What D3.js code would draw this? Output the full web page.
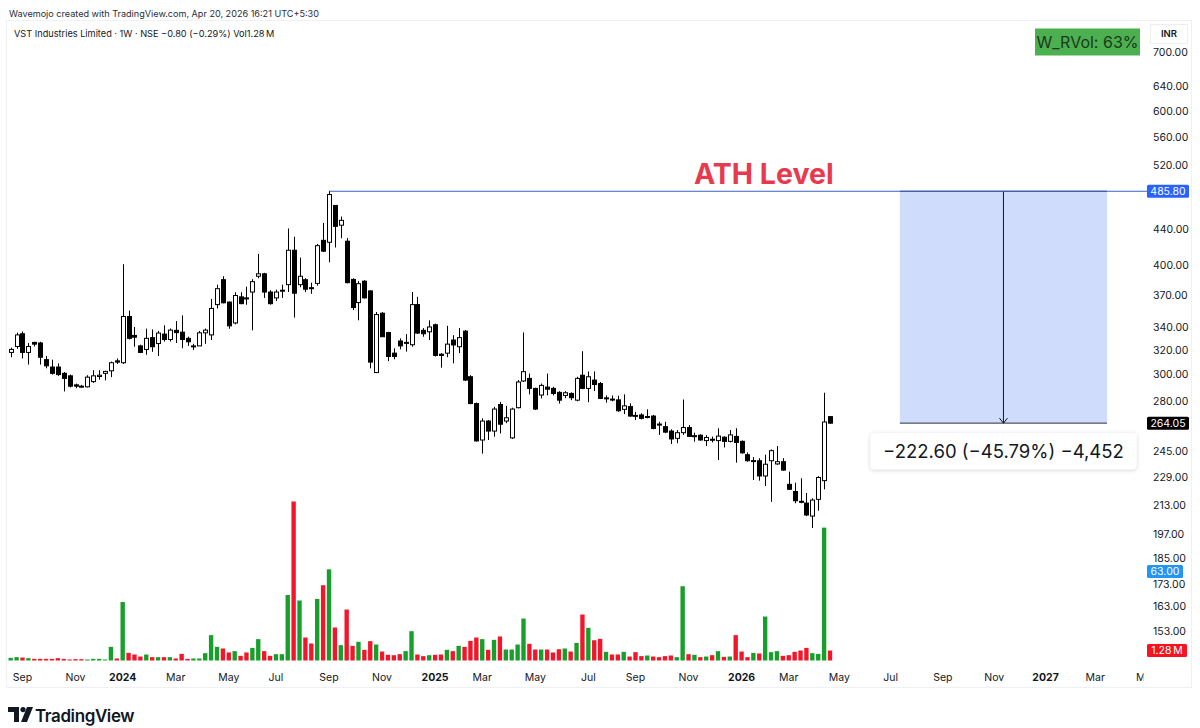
<!DOCTYPE html>
<html>
<head>
<meta charset="utf-8">
<script src="https://cdn.jsdelivr.net/npm/d3@7"></script>
<style>
  body { margin: 0; background: #fff; }
  svg { display: block; font-family: Inter, "Noto Sans", sans-serif; }
</style>
</head>
<body>
<svg id="chart" width="1200" height="728"></svg>
<script>
// Weekly candles of VST Industries (NSE), first week starts Mon 21 Aug 2023
const firstWeek = Date.UTC(2023, 7, 21);
const lastWeek = Date.UTC(2026, 3, 20);

const opens = [
  318, 323, 334, 318, 326.5, 326, 312, 306, 306, 301, 299, 292, 291, 290.5, 294.5, 298.5, 301, 303, 311, 309.5,
  349.5, 332.5, 323.5, 320.5, 330.6, 325.5, 333.7, 329, 337, 335.4, 330, 322.8, 323.5, 334.8, 333, 360.6, 385, 363, 343.6, 368,
  367, 372.7, 388.5, 391, 372.7, 367, 373.5, 380, 416, 380, 385, 377, 381.3, 427, 424.8, 468, 444.3, 426, 385.3, 362.5,
  383.5, 373.8, 301.6, 352.5, 335, 317.4, 327.7, 326, 324.5, 360.6, 337, 335.7, 342, 316.5, 317.4, 328.5, 322.8, 336.3, 298.3, 278,
  252.6, 265.5, 258.6, 277.3, 265.5, 254, 275, 295, 297, 289.3, 284.3, 290.3, 289.3, 286.3, 284, 285.5, 280.5, 299.5, 289.3, 295.7,
  293, 281.8, 281.3, 280.7, 273.8, 275.8, 269.5, 269.8, 268.3, 269, 263.4, 261.6, 258.6, 253.7, 257.5, 261, 255.2, 255.8, 252.2, 253.1,
  252.2, 254.5, 251.7, 255, 251.7, 243, 239, 239.2, 229.8, 239.2, 237.2, 238.6, 224.8, 220.6, 215, 214, 206.8, 216.1, 227, 268.6
];
const highs = [
  322, 335, 336, 326, 327, 327, 315, 312, 309, 302, 300, 293, 292, 299.5, 303.5, 303.5, 303, 310.5, 313, 401,
  355, 340, 324.5, 338.5, 337.8, 336.5, 341.5, 338.6, 345.3, 350.5, 331.5, 325.3, 336.5, 338.6, 366, 380, 388.5, 363.6, 372.5, 372.5,
  378, 385.5, 412, 392, 374.5, 375, 380, 440.5, 431, 408, 386.5, 382, 423, 447, 485.8, 468, 454.5, 429.5, 386.3, 383.5,
  384.5, 374.5, 353.6, 353.6, 335.7, 321.5, 330, 333.7, 372.7, 368, 339, 346, 343, 317.4, 341, 332.7, 339, 337.2, 299.5, 278.7,
  267.4, 266.2, 275.6, 279.2, 276.3, 275, 295.7, 335.2, 300.8, 289.8, 293, 300.8, 290.5, 287.2, 287.2, 286.3, 298.3, 319, 302.5, 302.5,
  294.2, 284, 284, 283.8, 284.8, 278.2, 272, 271, 273.8, 269.8, 265, 265, 259.8, 259.3, 281, 262.7, 257.5, 256.4, 255.8, 254.9,
  260.5, 255, 259.3, 260.5, 252.3, 244.5, 241.5, 240.8, 243, 246.4, 248.6, 240.8, 232.4, 225.8, 228.4, 219.8, 216.7, 229.7, 286, 269
];
const lows = [
  314, 321, 313, 308, 323, 308, 305, 300, 299, 287, 290, 289.5, 290, 290, 293.5, 296, 295.5, 298, 308.5, 308.5,
  329, 322.7, 317.5, 316, 318.5, 315, 327.2, 327.2, 326, 321.5, 323.5, 320, 323.5, 325.3, 328.5, 357, 361.8, 338.4, 342.4, 361,
  360.5, 337, 386.5, 367, 360.5, 364, 367, 372.7, 348.5, 377.5, 372.7, 371, 379, 414, 403, 419, 429.3, 381.3, 355.4, 346,
  366.5, 305, 301.2, 331.4, 310.8, 312.3, 320.6, 318.7, 322.8, 333.8, 331.4, 328.5, 314.6, 305.5, 314, 309, 317.4, 295, 277.5, 251.5,
  243.7, 252.6, 254.8, 257, 264, 253.3, 274.5, 294.2, 284.8, 273.3, 281.8, 284, 284, 278, 282, 280.5, 279.6, 288.7, 279, 287.3,
  281.3, 278.7, 279.6, 272, 270.4, 268.6, 266.2, 266.6, 267.4, 259.8, 256, 257.2, 250, 250.5, 256, 255, 251.5, 252.2, 248.6, 251,
  239.6, 247.7, 251, 238, 243.7, 238.6, 227.4, 227, 223.8, 214.7, 236.6, 233, 221.5, 213.9, 213.9, 206.8, 200.4, 209.7, 221.9, 263.6
];
const closes = [
  320.5, 333, 318, 323, 325, 314, 307, 301, 300, 297, 291, 291, 290.5, 298, 299, 299.5, 302.5, 309.5, 310, 349.5,
  330, 331, 318, 330, 322.8, 334.6, 329, 337.2, 335, 329, 327, 323.5, 334.8, 337.2, 357, 376, 362.3, 341, 369.3, 361.5,
  366.5, 383, 391, 372.7, 361.5, 372.7, 374.5, 416, 371.6, 388.5, 375.5, 376, 421, 415, 481.6, 443, 450, 382, 357.8, 381,
  367, 310, 351.3, 331.4, 314.6, 314.6, 323.5, 326.5, 360.6, 334.6, 334, 340, 315.5, 315.5, 325, 324.3, 330.6, 295.7, 278, 252,
  265.5, 258.6, 274, 263.3, 267.8, 274, 294.2, 302.3, 289.3, 274, 291.6, 288.7, 285.5, 280.5, 286, 282.3, 297, 289.3, 298.3, 292.3,
  281.8, 282.2, 281, 272.8, 276.3, 269, 269.3, 267.4, 268.7, 260.4, 263, 257.9, 253.3, 257.5, 261, 255, 255.5, 252.6, 254.3, 253,
  255.2, 251.7, 256, 251, 244.2, 239.2, 239.3, 229.8, 237, 245.6, 238.6, 233.4, 221.9, 215.3, 214.7, 207.4, 215.7, 228.9, 264.85, 264.05
];
// weekly volume, millions of shares
const volumes = [
  0.34, 0.43, 0.38, 0.3, 0.21, 0.21, 0.21, 0.21, 0.3, 0.21, 0.13, 0.17, 0.17, 0.13, 0.21, 0.21, 0.13, 1.75, 0.26, 7.5,
  0.98, 0.77, 0.51, 0.77, 0.43, 0.43, 0.43, 0.43, 0.26, 0.85, 0.21, 0.26, 0.26, 0.94, 3.25, 1.75, 1.54, 1.03, 1.2, 0.6,
  1.03, 1.62, 2.74, 1.2, 0.6, 0.81, 0.81, 8.4, 20.4, 7.7, 2.95, 2.18, 7.9, 9.66, 11.7, 4.23, 1.97, 6.54, 1.88, 2.4,
  1.37, 2.48, 2.05, 1.15, 0.73, 0.68, 0.81, 1.2, 3.76, 0.77, 0.56, 0.68, 0.73, 0.77, 1.37, 1.2, 1.88, 1.75, 2.52, 2.95,
  2.74, 1.37, 2.65, 3.08, 1.41, 1.41, 2.05, 5.38, 2.14, 1.41, 1.41, 1.41, 1.03, 1.45, 1.54, 1.15, 2.26, 5.9, 4.19, 2.6,
  2.78, 1.11, 0.77, 0.77, 1.11, 0.51, 1.07, 0.56, 0.64, 0.51, 0.43, 0.56, 0.64, 0.43, 9.53, 0.81, 0.73, 0.43, 0.51, 0.68,
  1.2, 0.47, 0.51, 3.25, 1.15, 0.43, 0.98, 0.9, 5.64, 1.07, 1.2, 0.6, 0.68, 1.11, 1.28, 1.62, 0.94, 0.85, 17.05, 1.28
];

// price axis ticks (log scale) and time axis labels
const priceTicks = [700, 640, 600, 560, 520, 440, 400, 370, 340, 320, 300, 280, 245, 229, 213, 197, 185, 173, 163, 153];
const timeTicks = [
  ["2023-09-04", "Sep"], ["2023-11-06", "Nov"], ["2024-01-01", "2024"], ["2024-03-04", "Mar"], ["2024-05-06", "May"],
  ["2024-07-01", "Jul"], ["2024-09-02", "Sep"], ["2024-11-04", "Nov"], ["2025-01-06", "2025"], ["2025-03-03", "Mar"],
  ["2025-05-05", "May"], ["2025-07-07", "Jul"], ["2025-09-01", "Sep"], ["2025-11-03", "Nov"], ["2026-01-05", "2026"],
  ["2026-03-02", "Mar"], ["2026-05-01", "May"], ["2026-07-01", "Jul"], ["2026-09-01", "Sep"], ["2026-11-01", "Nov"],
  ["2027-01-01", "2027"], ["2027-03-01", "Mar"], ["2027-05-01", "May"]
];

// ATH level and the price range measure drawn to the right
const athPrice = 485.8;
const lastPrice = 264.05;
const measureStart = "2026-07-12";
const measureEnd = "2027-03-15";
const measureText = "\u2212222.60 (\u221245.79%) \u22124,452";

const weekMs = 7 * 24 * 3600 * 1000;
const candles = opens.map((o, i) => ({
  date: new Date(firstWeek + i * weekMs),
  open: o, high: highs[i], low: lows[i], close: closes[i], vol: volumes[i]
}));

const svg = d3.select("#chart");
svg.append("rect").attr("width", 1200).attr("height", 728).attr("fill", "#fff");

// Scales
const x = d3.scaleUtc()
  .domain([new Date(firstWeek), new Date(lastWeek)])
  .range([10.7, 830]);
const y = d3.scaleLog()
  .domain([700, 153])
  .range([52.3, 630.7]);
const yVol = d3.scaleLinear()
  .domain([0, 20.4])
  .range([660.5, 501.5]);

const step = x(new Date(firstWeek + weekMs)) - x(new Date(firstWeek));
const bodyW = 4;
const volW = step * 0.74;

// Frame of the chart
svg.append("rect")
  .attr("x", 6.5).attr("y", 20.5).attr("width", 1185).attr("height", 667)
  .attr("fill", "none").attr("stroke", "#eef0f3");

// Header texts
svg.append("text").attr("x", 9).attr("y", 16.5)
  .style("font-size", "9.1px").attr("fill", "#2a2e39")
  .text("Wavemojo created with TradingView.com, Apr 20, 2026 16:21 UTC+5:30");
svg.append("text").attr("x", 14).attr("y", 36.5)
  .style("font-size", "9.2px").attr("fill", "#131722")
  .text("VST Industries Limited \u00b7 1W \u00b7 NSE  \u22120.80 (\u22120.29%)  Vol1.28\u2009M");

// Volume bars
svg.append("g").selectAll("rect")
  .data(candles)
  .enter().append("rect")
  .attr("x", d => x(d.date) - volW / 2)
  .attr("y", d => yVol(d.vol))
  .attr("width", volW)
  .attr("height", d => yVol(0) - yVol(d.vol))
  .attr("fill", d => d.close >= d.open ? "#16a02b" : "#f2162b");

// Measure box from ATH down to last price
const mx0 = x(new Date(measureStart)), mx1 = x(new Date(measureEnd));
const mxc = (mx0 + mx1) / 2;
svg.append("rect")
  .attr("x", mx0).attr("y", y(athPrice))
  .attr("width", mx1 - mx0).attr("height", y(lastPrice) - y(athPrice))
  .attr("fill", "#cfdcfc");
[athPrice, lastPrice].forEach(p => {
  svg.append("line")
    .attr("x1", mx0).attr("x2", mx1).attr("y1", y(p)).attr("y2", y(p))
    .attr("stroke", "#2a2e39").attr("stroke-width", 1);
});
svg.append("line")
  .attr("x1", mxc).attr("x2", mxc).attr("y1", y(athPrice)).attr("y2", y(lastPrice))
  .attr("stroke", "#131722").attr("stroke-width", 1);
svg.append("path")
  .attr("d", `M${mxc - 4},${y(lastPrice) - 5}L${mxc},${y(lastPrice)}L${mxc + 4},${y(lastPrice) - 5}`)
  .attr("fill", "none").attr("stroke", "#131722").attr("stroke-width", 1);

// ATH horizontal line from the peak candle
const athCandle = candles.find(d => d.high === athPrice);
svg.append("line")
  .attr("x1", x(athCandle.date)).attr("x2", 1147)
  .attr("y1", y(athPrice)).attr("y2", y(athPrice))
  .attr("stroke", "#3b5fc4").attr("stroke-width", 1.2);

svg.append("text")
  .attr("x", 694).attr("y", y(athPrice) - 7)
  .style("font-size", "28.5px").style("font-weight", 700)
  .attr("fill", "#e83a4f")
  .text("ATH Level");

// Candles
const cg = svg.append("g");
cg.selectAll("line")
  .data(candles)
  .enter().append("line")
  .attr("x1", d => Math.round(x(d.date)) + 0.5)
  .attr("x2", d => Math.round(x(d.date)) + 0.5)
  .attr("y1", d => y(d.high))
  .attr("y2", d => y(d.low))
  .attr("stroke", "#000").attr("stroke-width", 1);
cg.selectAll("rect")
  .data(candles)
  .enter().append("rect")
  .attr("x", d => Math.round(x(d.date)) + 0.5 - bodyW / 2)
  .attr("y", d => y(Math.max(d.open, d.close)))
  .attr("width", bodyW)
  .attr("height", d => Math.max(1, y(Math.min(d.open, d.close)) - y(Math.max(d.open, d.close))))
  .attr("fill", d => d.close >= d.open ? "#fff" : "#000")
  .attr("stroke", "#000").attr("stroke-width", 1);

// Label of the measure
const defs = svg.append("defs");
const shadow = defs.append("filter").attr("id", "shadow").attr("x", "-10%").attr("y", "-30%")
  .attr("width", "120%").attr("height", "170%");
shadow.append("feDropShadow").attr("dx", 0).attr("dy", 1).attr("stdDeviation", 2)
  .attr("flood-color", "#000").attr("flood-opacity", 0.18);
svg.append("rect")
  .attr("x", mxc - 133).attr("y", y(lastPrice) + 10)
  .attr("width", 266).attr("height", 36).attr("rx", 4)
  .attr("fill", "#fff").attr("filter", "url(#shadow)");
svg.append("text")
  .attr("x", mxc).attr("y", y(lastPrice) + 35)
  .attr("text-anchor", "middle")
  .style("font-size", "18.5px").attr("fill", "#131722")
  .text(measureText);

// Price axis
const axisX = 1153;
svg.append("g").selectAll("text")
  .data(priceTicks)
  .enter().append("text")
  .attr("x", axisX).attr("y", d => y(d) + 3.8)
  .style("font-size", "10.5px").attr("fill", "#131722")
  .text(d => d.toFixed(2));

// Time axis, clipped at the price scale
defs.append("clipPath").attr("id", "timeclip")
  .append("rect").attr("x", 0).attr("y", 660).attr("width", 1143.5).attr("height", 30);
svg.append("g").attr("clip-path", "url(#timeclip)")
  .selectAll("text")
  .data(timeTicks)
  .enter().append("text")
  .attr("x", d => x(new Date(d[0])))
  .attr("y", 681)
  .attr("text-anchor", "middle")
  .style("font-size", "10.5px")
  .style("font-weight", d => /^\d+$/.test(d[1]) ? 700 : 400)
  .attr("fill", "#131722")
  .text(d => d[1]);

// Axis price labels
function priceLabel(yPos, text, fill, w) {
  svg.append("rect")
    .attr("x", 1147).attr("y", yPos - 6.5).attr("width", w).attr("height", 13).attr("rx", 1.5)
    .attr("fill", fill);
  svg.append("text")
    .attr("x", 1147 + w / 2).attr("y", yPos + 3.8).attr("text-anchor", "middle")
    .style("font-size", "10.5px").attr("fill", "#fff")
    .text(text);
}
priceLabel(y(athPrice), athPrice.toFixed(2), "#2962ff", 42);
priceLabel(y(lastPrice), lastPrice.toFixed(2), "#000", 42);
priceLabel(571.5, "63.00", "#2196f3", 36);
priceLabel(yVol(volumes[volumes.length - 1]), "1.28\u2009M", "#f7131f", 40);

// Currency box
svg.append("rect")
  .attr("x", 1150.5).attr("y", 24.5).attr("width", 37).attr("height", 19)
  .attr("fill", "#fff").attr("stroke", "#eceef2");
svg.append("text")
  .attr("x", 1169).attr("y", 37).attr("text-anchor", "middle")
  .style("font-size", "9.5px").style("font-weight", 600).attr("fill", "#131722")
  .text("INR");

// Relative volume badge
svg.append("rect")
  .attr("x", 1035).attr("y", 28.5).attr("width", 105).attr("height", 27)
  .attr("fill", "#4caf50");
svg.append("text")
  .attr("x", 1087.5).attr("y", 47.5).attr("text-anchor", "middle")
  .style("font-size", "16px").attr("fill", "#1b3a1e")
  .text("W_RVol: 63%");

// Footer logo
const logo = svg.append("g").attr("transform", "translate(8,707)");
logo.append("path").attr("d", "M0,0H11V15H6V5H0Z").attr("fill", "#131722");
logo.append("circle").attr("cx", 15).attr("cy", 2.6).attr("r", 2.6).attr("fill", "#131722");
logo.append("path").attr("d", "M19,0H25L19,15H13Z").attr("fill", "#131722");
svg.append("text")
  .attr("x", 35).attr("y", 721.5)
  .style("font-size", "17px").style("font-weight", 600).style("letter-spacing", "-0.4px")
  .attr("fill", "#131722")
  .text("TradingView");
</script>
</body>
</html>
